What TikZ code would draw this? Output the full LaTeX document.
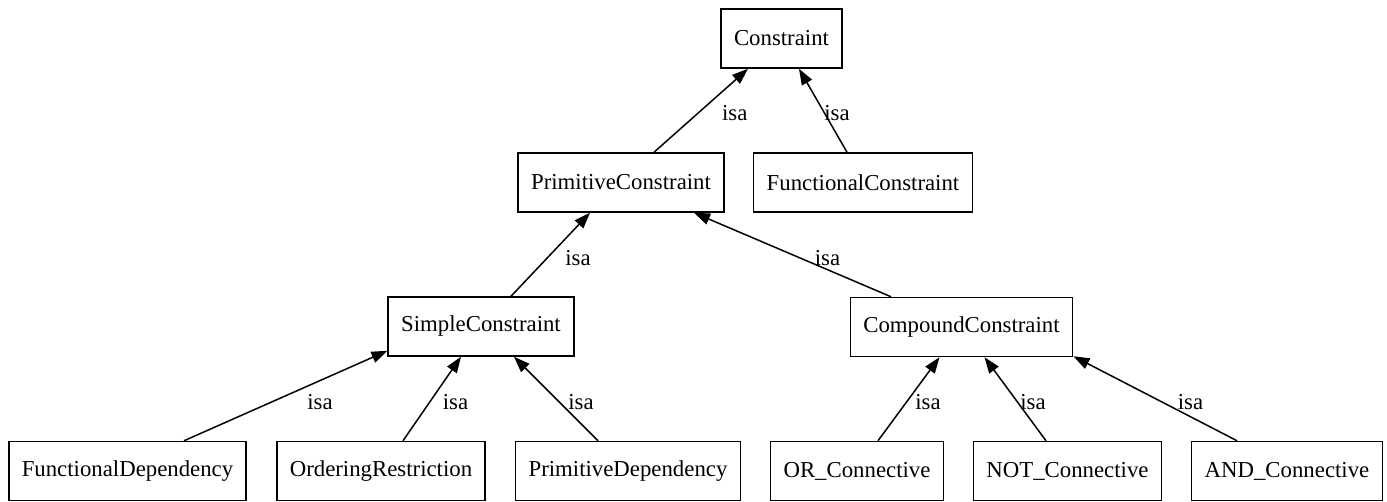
\documentclass[tikz,border=0pt]{standalone}
\usepackage{fontspec}
\setmainfont{Liberation Serif}
\usetikzlibrary{arrows.meta}
\begin{document}
\begin{tikzpicture}[x=1pt,y=-1pt,
  cls/.style={draw=black, line width=1.5pt, rectangle, minimum height=59pt, inner xsep=13pt, inner ysep=0pt,
    font=\fontsize{22.8}{27}\selectfont},
  isa/.style={draw=black, line width=1.5pt, -{Triangle[length=16pt,width=11.5pt]}},
  lbl/.style={inner sep=0pt, anchor=center, font=\fontsize{22.8}{27}\selectfont}]
\useasboundingbox (0,0) rectangle (1387,501);
% nodes
\node[cls] (c)   at (781.5,38.5)  {Constraint};
\node[cls] (pc)  at (621,182.5)   {PrimitiveConstraint};
\node[cls] (fc)  at (863,182.5)   {FunctionalConstraint};
\node[cls] (sc)  at (481,326.5)   {SimpleConstraint};
\node[cls] (cc)  at (961.5,327)   {CompoundConstraint};
\node[cls] (fd)  at (127.5,471)   {FunctionalDependency};
\node[cls] (or)  at (381,471)     {OrderingRestriction};
\node[cls] (pd)  at (628,471)     {PrimitiveDependency};
\node[cls] (orc) at (857,471)     {OR\_Connective};
\node[cls] (notc) at (1067.5,471) {NOT\_Connective};
\node[cls] (andc) at (1287,471)   {AND\_Connective};
% edges
\draw[isa] ([xshift=33pt]pc.north) -- ([xshift=-33.5pt]c.south);
\draw[isa] ([xshift=-16pt]fc.north) -- ([xshift=17.5pt]c.south);
\draw[isa] ([xshift=30pt]sc.north) -- ([xshift=-31pt]pc.south);
\draw[isa] ([xshift=-70.5pt]cc.north) -- ([xshift=73pt]pc.south);
\draw[isa] ([xshift=56.5pt]fd.north) -- ([yshift=6pt]sc.south west);
\draw[isa] ([xshift=22pt]or.north) -- ([xshift=-20pt]sc.south);
\draw[isa] ([xshift=-30pt]pd.north) -- ([xshift=33pt]sc.south);
\draw[isa] ([xshift=21pt]orc.north) -- ([xshift=-22pt]cc.south);
\draw[isa] ([xshift=-21.5pt]notc.north) -- ([xshift=23pt]cc.south);
\draw[isa] ([xshift=-50pt]andc.north) -- ([yshift=1pt]cc.south east);
% labels
\node[lbl] (l1) at (734.7,113) {isa};
\node[lbl] (l2) at (837,113) {isa};
\node[lbl] (l3) at (578,258) {isa};
\node[lbl] (l4) at (827.5,258) {isa};
\node[lbl] (l5) at (320,402) {isa};
\node[lbl] (l6) at (455.5,402) {isa};
\node[lbl] (l7) at (581,402) {isa};
\node[lbl] (l8) at (928,402) {isa};
\node[lbl] (l9) at (1033,402) {isa};
\node[lbl] (l10) at (1190.5,402) {isa};
\end{tikzpicture}
\end{document}
